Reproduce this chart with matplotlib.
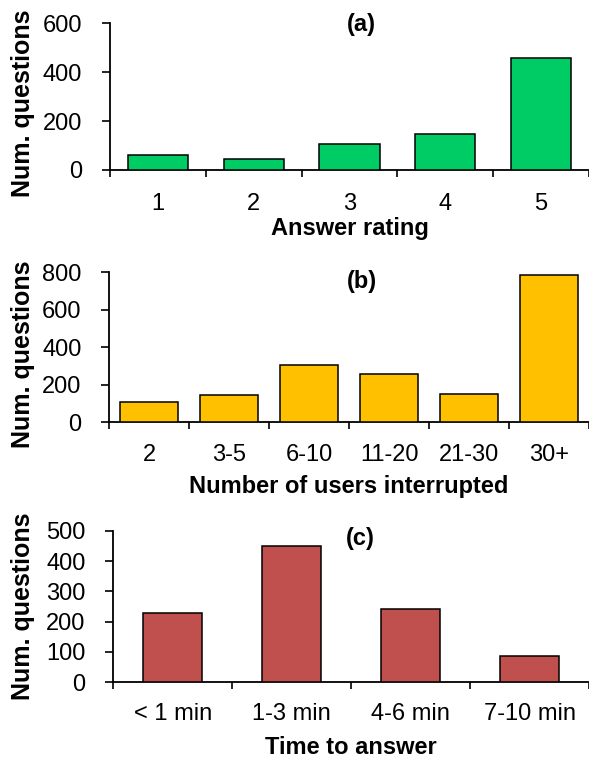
import numpy as np
import matplotlib
matplotlib.use("Agg")
import matplotlib.pyplot as plt

plt.rcParams['font.family'] = ['Liberation Sans', 'DejaVu Sans']

rating_labels = ['1', '2', '3', '4', '5']
rating_counts = [60, 43, 108, 149, 459]

users_labels = ['2', '3-5', '6-10', '11-20', '21-30', '30+']
users_counts = [108, 146, 303, 257, 150, 787]

time_labels = ['< 1 min', '1-3 min', '4-6 min', '7-10 min']
time_counts = [227, 451, 241, 88]

W, H = 589, 761
fig = plt.figure(figsize=(W / 100, H / 100), dpi=100)

def px(x, y):
    return x / W, 1 - y / H

def panel(left, top, bottom, labels, counts, color, width, ymax, ystep,
          xlabel, tag, tag_xy, ylab_y, xlab_y, pad):
    ax = fig.add_axes([left / W, 1 - bottom / H, 1 - left / W, (bottom - top) / H])
    n = len(labels)
    x = np.arange(n) + 0.5
    ax.bar(x, counts, width=width, color=color, edgecolor='black', linewidth=1.1, zorder=3)
    ax.set_xlim(0, n)
    ax.set_ylim(0, ymax)
    ax.set_yticks(np.arange(0, ymax + 1, ystep))
    # boundary ticks without labels, category labels on minor ticks
    ax.set_xticks(np.arange(n + 1))
    ax.set_xticklabels([])
    ax.set_xticks(x, minor=True)
    ax.set_xticklabels(labels, minor=True)
    ax.tick_params(axis='x', which='major', direction='out', length=5, width=1.2)
    ax.tick_params(axis='x', which='minor', length=0, labelsize=17, pad=pad)
    ax.tick_params(axis='y', direction='out', length=5.5, width=1.2, labelsize=17, pad=14.5)
    for s in ['top', 'right']:
        ax.spines[s].set_visible(False)
    for s in ['left', 'bottom']:
        ax.spines[s].set_linewidth(1.3)
    fig.text(*px(22.6, ylab_y), 'Num. questions', rotation=90, ha='center', va='center',
             fontsize=18, fontweight='bold')
    fig.text(*px((left + W) / 2, xlab_y), xlabel, ha='center', va='center',
             fontsize=17, fontweight='bold')
    fig.text(*px(*tag_xy), tag, ha='center', va='center', fontsize=17, fontweight='bold')
    return ax

panel(110, 23.3, 170, rating_labels, rating_counts, '#00CC66', 0.63, 600, 200,
      'Answer rating', '(a)', (361.6, 25), 103, 228, 16.5)
panel(109.3, 272.3, 422.3, users_labels, users_counts, '#FFC000', 0.72, 800, 200,
      'Number of users interrupted', '(b)', (361.6, 281.7), 354, 487, 15.5)
panel(113.3, 530.7, 682.3, time_labels, time_counts, '#C0504D', 0.5, 500, 100,
      'Time to answer', '(c)', (360, 538), 606.7, 748, 14.6)

fig.savefig('out.png', dpi=100)
